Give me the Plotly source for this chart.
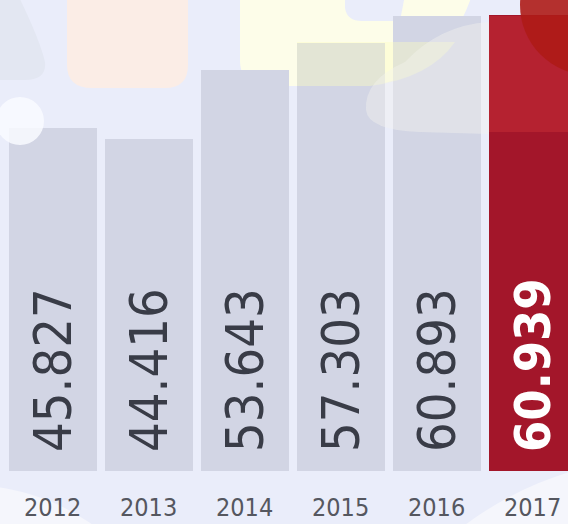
import plotly.graph_objects as go

years = ["2012", "2013", "2014", "2015", "2016", "2017"]
values = [45.827, 44.416, 53.643, 57.303, 60.893, 60.939]
labels = ["45.827", "44.416", "53.643", "57.303", "60.893", "60.939"]
highlight_year = "2017"

FONT = "DejaVu Sans Condensed, Liberation Sans, sans-serif"

W, H, PLOT_H = 568, 524, 471
bar_colors = ["#a3162a" if y == highlight_year else "#d2d5e4" for y in years]

fig = go.Figure()
fig.add_trace(go.Bar(
    x=list(range(len(years))), y=values,
    marker=dict(color=bar_colors, line=dict(width=0)),
    width=0.92, hoverinfo="skip",
))

ann = []
for i, (yr, lab) in enumerate(zip(years, labels)):
    hi = yr == highlight_year
    ann.append(dict(
        x=i, y=0, xref="x", yref="y", text=f"<b>{lab}</b>" if hi else lab,
        textangle=-90, showarrow=False, yanchor="bottom", xanchor="center",
        yshift=17,
        font=dict(family=FONT, size=50 if hi else 52,
                  color="#ffffff" if hi else "#393c47"),
    ))
    ann.append(dict(
        x=i, y=0, xref="x", yref="y", text=yr, showarrow=False,
        yanchor="top", xanchor="center", yshift=-20,
        font=dict(family=FONT, size=25, color="#55575f"),
    ))


def P(pts):
    """Convert pixel-space path pieces to a paper-space SVG path."""
    out = []
    for seg in pts:
        cmd, nums = seg[0], seg[1:]
        conv = []
        for k in range(0, len(nums), 2):
            conv.append(f"{nums[k] / W:.4f},{1 - nums[k + 1] / PLOT_H:.4f}")
        out.append(cmd + " " + " ".join(conv))
    return " ".join(out) + " Z"


def blob(path, color, layer="below", opacity=1.0):
    return dict(type="path", xref="paper", yref="paper", path=path,
                fillcolor=color, opacity=opacity, line=dict(width=0), layer=layer)


def circ(cx, cy, r, color, layer="below", opacity=1.0):
    return dict(type="circle", xref="paper", yref="paper",
                x0=(cx - r) / W, x1=(cx + r) / W,
                y0=1 - (cy + r) / PLOT_H, y1=1 - (cy - r) / PLOT_H,
                fillcolor=color, opacity=opacity, line=dict(width=0), layer=layer)


peach = P([("M", 67, -5), ("L", 67, 65), ("Q", 67, 88, 92, 88), ("L", 165, 88),
           ("Q", 188, 88, 188, 65), ("L", 188, -5)])
yellow = P([("M", 240, -5), ("L", 240, 60), ("Q", 240, 86, 268, 86), ("L", 370, 86),
            ("Q", 445, 75, 472, -5)])
yellow_over = P([("M", 297, 42), ("L", 297, 86), ("L", 370, 86),
                 ("Q", 430, 78, 455, 42)])
notch = P([("M", 345, -5), ("L", 345, 8), ("Q", 347, 21, 362, 21), ("L", 400, 21),
           ("L", 405, -5)])
left_blob = P([("M", -5, -5), ("L", 18, -5), ("Q", 40, 40, 45, 62), ("Q", 47, 80, 25, 80),
               ("L", -5, 80)])
white_blob = P([("M", 366, 110), ("Q", 364, 80, 405, 62), ("Q", 440, 25, 489, 22),
                ("L", 489, 134), ("L", 420, 132), ("Q", 368, 130, 366, 110)])
red_light = P([("M", 489, 16), ("L", 575, 16), ("L", 575, 132), ("L", 489, 132)])

shapes = [
    blob(peach, "#fbede6"),
    blob(yellow, "#fdfde9"),
    blob(notch, "#eaedfa"),
    blob(left_blob, "#e3e7f2"),
    circ(-32, 700, 215, "#f5f6fc"),
    circ(670, 800, 343, "#f5f6fc"),
    # overlays on top of bars
    blob(yellow_over, "#fdfdbe", layer="above", opacity=0.4),
    blob(white_blob, "#f4f4ee", layer="above", opacity=0.42),
    blob(red_light, "#cc3038", layer="above", opacity=0.45),
    circ(590, 5, 70, "#ae1b17", layer="above", opacity=0.9),
    circ(20, 121, 24, "#f9faff", layer="above", opacity=0.85),
]

fig.update_layout(
    width=W, height=H,
    margin=dict(l=0, r=0, t=0, b=H - PLOT_H),
    paper_bgcolor="#eaedfa", plot_bgcolor="#eaedfa",
    showlegend=False,
    xaxis=dict(range=[-0.552, 5.365], visible=False, fixedrange=True),
    yaxis=dict(range=[0, 63], visible=False, fixedrange=True),
    annotations=ann, shapes=shapes,
    bargap=0,
)

fig.write_html("out.html", config={"displayModeBar": False},
               post_script="document.body.style.margin='0';document.body.style.overflow='hidden';")
